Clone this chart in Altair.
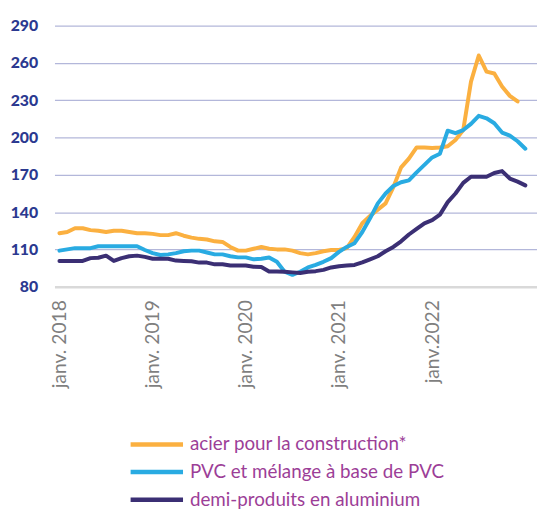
import altair as alt
import pandas as pd

# Month index 0 = janv. 2018
months = pd.date_range("2018-01-01", "2023-01-01", freq="MS").strftime("%Y-%m").tolist()

series_names = [
    "acier pour la construction*",
    "PVC et mélange à base de PVC",
    "demi-produits en aluminium",
]
colors = ["#FBB040", "#29ABE2", "#3B2F74"]
tick_labels = ["janv. 2018", "janv. 2019", "janv. 2020", "janv. 2021", "janv.2022"]
y_ticks = [80, 110, 140, 170, 200, 230, 260, 290]

steel = [123, 124, 127, 127, 125.5, 125, 124, 125, 125, 124,
         123, 123, 122.5, 121.5, 121.5, 123, 121, 119.5, 118.5, 118,
         116.5, 116, 112, 109, 109, 110.5, 112, 110.5, 110, 110,
         109, 107, 106, 107, 108.5, 109.5, 109.5, 111, 120, 131,
         137, 142, 147, 160, 176, 183, 192, 192, 191.5, 192,
         193, 198, 206, 245, 266, 253, 251.5, 241, 233.5, 229]

pvc = [109, 110, 111, 111, 111, 112.5, 112.5, 112.5, 112.5, 112.5,
       112.5, 109.5, 107, 105.5, 106, 107, 108.5, 109, 109, 107.5,
       106, 106, 104.5, 103.6, 103.6, 102, 102.5, 103.5, 100, 92,
       89.5, 92, 95.5, 97.5, 100, 103, 108, 112, 115, 124,
       135, 147, 155, 161, 164, 165.5, 172, 178, 184, 187,
       205.5, 203.5, 206, 211, 217.5, 215.5, 211.5, 204, 201.5, 197,
       191]

alu = [100.7, 100.7, 100.7, 100.7, 103, 103.3, 105, 100.7, 103, 104.5,
       105, 104, 102.5, 102.5, 102.5, 101, 100.7, 100.5, 99.4, 99.4,
       98, 98, 97, 97, 97, 96, 95.9, 92.2, 92.2, 92,
       91.5, 91, 92, 92.5, 93.5, 95.5, 96.5, 97, 97.5, 99.5,
       102, 104.5, 108.5, 112, 116.5, 122, 126.5, 131, 133.5, 138,
       148, 155, 163.5, 168.5, 168.5, 168.5, 171.5, 173, 167, 164.5,
       161.5]

rows = []
for k, (name, vals) in enumerate(zip(series_names, [steel, pvc, alu])):
    for i, v in enumerate(vals):
        rows.append({"m": i, "month": months[i], "value": v, "series": name, "k": k})
df = pd.DataFrame(rows)

label_expr = "[" + ",".join("'" + t + "'" for t in tick_labels) + "][round(datum.value/12)]"

chart = alt.Chart(df).mark_line(strokeWidth=4, strokeJoin="round", strokeCap="round").encode(
    x=alt.X("m:Q",
            scale=alt.Scale(domain=[-0.64, 61.5], nice=False, zero=False),
            axis=alt.Axis(values=[0, 12, 24, 36, 48], labelExpr=label_expr, labelAngle=270,
                          ticks=False, domain=False, grid=False, labelPadding=13,
                          labelFontSize=19.5, labelColor="#7f7f7f", labelFont="Lato",
                          labelFontWeight="normal", title=None)),
    y=alt.Y("value:Q",
            scale=alt.Scale(domain=[80, 290], nice=False, zero=False),
            axis=alt.Axis(values=y_ticks, ticks=False, domain=False, labelPadding=17,
                          labelFontSize=16, labelFont="Lato", labelFontWeight=900,
                          labelColor="#2B3990", title=None,
                          gridColor={"condition": {"test": "datum.value === 80", "value": "#d9d9d9"}, "value": "#b3b7da"},
                          gridWidth={"condition": {"test": "datum.value === 80", "value": 2.5}, "value": 1.3})),
    color=alt.Color("series:N",
                    scale=alt.Scale(domain=series_names, range=colors),
                    legend=alt.Legend(orient="none", legendX=94, legendY=414, title=None,
                                      symbolType="M-5.3,0H5.3", symbolSize=100,
                                      symbolStrokeWidth=4.5, labelFontSize=19, labelFont="Lato",
                                      labelColor="#9C3E97", rowPadding=8, labelOffset=24,
                                      labelLimit=0, padding=0)),
    order=alt.Order("k:Q"),
).properties(
    width=488, height=264,
    autosize=alt.AutoSizeParams(type="none"),
    padding={"left": 47, "top": 15, "right": 0, "bottom": 224},
).configure_view(stroke=None)

chart.save("out.html", embed_options={"renderer": "svg", "actions": False})
